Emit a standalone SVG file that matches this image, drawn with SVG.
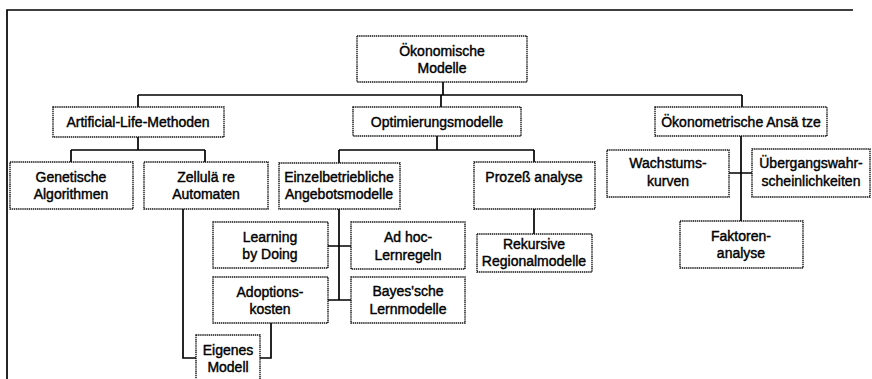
<svg xmlns="http://www.w3.org/2000/svg" width="872" height="379" viewBox="0 0 872 379">
<style>
.box{fill:#fff;stroke:#111;stroke-width:1.4;stroke-dasharray:1.4 0.7}
.t{font-family:"Liberation Sans",Arial,sans-serif;font-size:14px;fill:#000;text-anchor:middle;stroke:#000;stroke-width:0.4}
.c{fill:none;stroke:#000;stroke-width:1.7}
</style>
<rect width="872" height="379" fill="#fff"/>
<g id="frame"><path class="c" d="M7 379V10H853"/></g>
<g id="connectors">
<path class="c" d="M443 82V95M138 95H742M138 95V107M441 95V107M742 95V107"/>
<path class="c" d="M138 137V150M71 150H205M71 150V162M205 150V162"/>
<path class="c" d="M437 136V150M339 150H534M339 150V163M534 150V162"/>
<path class="c" d="M534 209V234"/>
<path class="c" d="M339 209V300M328 246H351M328 300H351"/>
<path class="c" d="M183 209V358H196M271 323V358H260"/>
<path class="c" d="M741 136V222M729 173H752"/>
</g>
<g id="n-root"><rect class="box" x="357" y="36" width="170" height="46"/><text class="t" x="442" y="56">Ökonomische</text><text class="t" x="442" y="73">Modelle</text></g>
<g id="n-alm"><rect class="box" x="53" y="107" width="171" height="30"/><text class="t" x="138" y="127">Artificial-Life-Methoden</text></g>
<g id="n-opt"><rect class="box" x="353" y="107" width="168" height="29"/><text class="t" x="437" y="127">Optimierungsmodelle</text></g>
<g id="n-oek"><rect class="box" x="655" y="107" width="172" height="29"/><text class="t" x="741" y="127">Ökonometrische Ansä tze</text></g>
<g id="n-gen"><rect class="box" x="10" y="162" width="123" height="47"/><text class="t" x="71" y="182">Genetische</text><text class="t" x="71" y="199">Algorithmen</text></g>
<g id="n-zell"><rect class="box" x="144" y="162" width="124" height="47"/><text class="t" x="206" y="182">Zellulä re</text><text class="t" x="206" y="199">Automaten</text></g>
<g id="n-einz"><rect class="box" x="279" y="163" width="121" height="46"/><text class="t" x="339" y="182">Einzelbetriebliche</text><text class="t" x="339" y="199">Angebotsmodelle</text></g>
<g id="n-proz"><rect class="box" x="474" y="162" width="121" height="47"/><text class="t" x="534" y="182">Prozeß analyse</text></g>
<g id="n-rek"><rect class="box" x="477" y="234" width="115" height="38"/><text class="t" x="534" y="249">Rekursive</text><text class="t" x="534" y="266">Regionalmodelle</text></g>
<g id="n-lbd"><rect class="box" x="213" y="222" width="115" height="46"/><text class="t" x="270" y="242">Learning</text><text class="t" x="270" y="259">by Doing</text></g>
<g id="n-adhoc"><rect class="box" x="351" y="222" width="114" height="47"/><text class="t" x="408" y="242">Ad hoc-</text><text class="t" x="408" y="260">Lernregeln</text></g>
<g id="n-adopt"><rect class="box" x="213" y="277" width="115" height="46"/><text class="t" x="270" y="297">Adoptions-</text><text class="t" x="270" y="314">kosten</text></g>
<g id="n-bayes"><rect class="box" x="351" y="277" width="114" height="46"/><text class="t" x="408" y="296">Bayes'sche</text><text class="t" x="408" y="314">Lernmodelle</text></g>
<g id="n-eig"><rect class="box" x="196" y="335" width="64" height="50"/><text class="t" x="228" y="355">Eigenes</text><text class="t" x="228" y="372">Modell</text></g>
<g id="n-wach"><rect class="box" x="607" y="150" width="122" height="47"/><text class="t" x="668" y="168">Wachstums-</text><text class="t" x="668" y="186">kurven</text></g>
<g id="n-ueb"><rect class="box" x="752" y="149" width="118" height="48"/><text class="t" x="811" y="168">Übergangswahr-</text><text class="t" x="811" y="186">scheinlichkeiten</text></g>
<g id="n-fakt"><rect class="box" x="680" y="221" width="123" height="47"/><text class="t" x="741" y="241">Faktoren-</text><text class="t" x="741" y="258">analyse</text></g>
</svg>
